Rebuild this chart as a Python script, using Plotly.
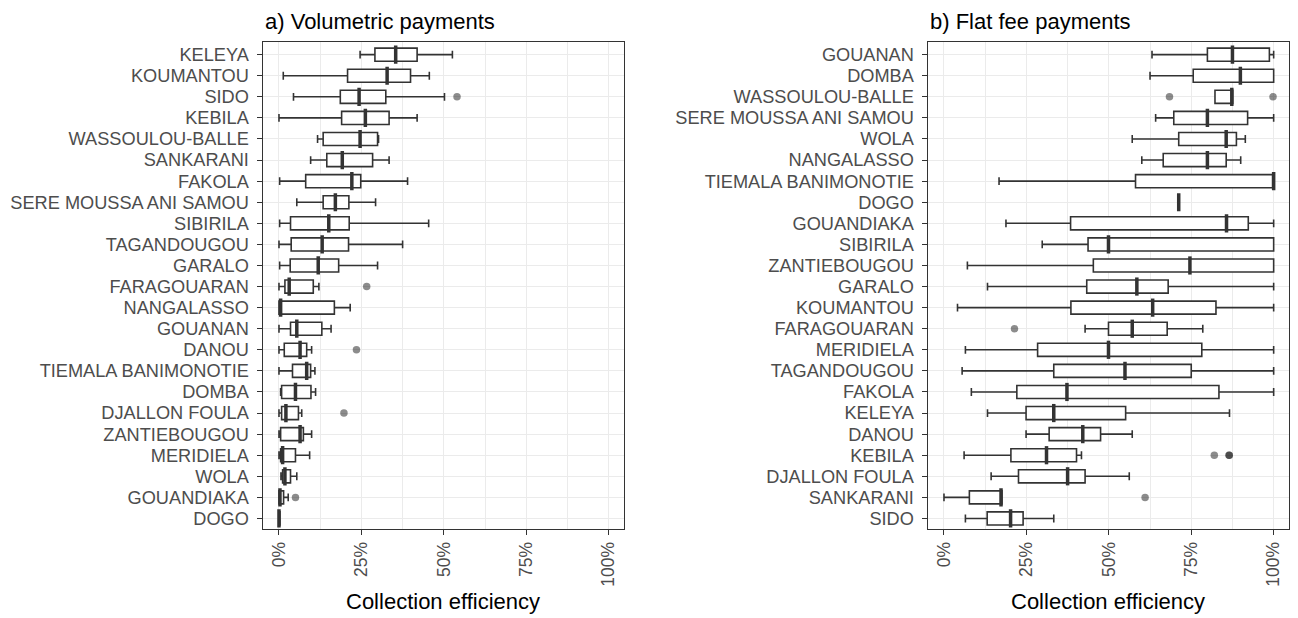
import plotly.graph_objects as go

# ---------------- data: a) Volumetric payments (top to bottom) ----------------
vol_cats = ["KELEYA", "KOUMANTOU", "SIDO", "KEBILA", "WASSOULOU-BALLE", "SANKARANI",
            "FAKOLA", "SERE MOUSSA ANI SAMOU", "SIBIRILA", "TAGANDOUGOU", "GARALO",
            "FARAGOUARAN", "NANGALASSO", "GOUANAN", "DANOU", "TIEMALA BANIMONOTIE",
            "DOMBA", "DJALLON FOULA", "ZANTIEBOUGOU", "MERIDIELA", "WOLA",
            "GOUANDIAKA", "DOGO"]
vol_low = [0.246, 0.013, 0.044, 0.000, 0.117, 0.096, 0.002, 0.054, 0.002, 0.000, 0.002,
           0.000, 0.000, 0.000, 0.000, 0.000, 0.005, 0.000, 0.000, 0.000, 0.006, 0.000, 0.000]
vol_q1 = [0.291, 0.208, 0.186, 0.190, 0.134, 0.145, 0.081, 0.134, 0.035, 0.037, 0.034,
          0.018, 0.000, 0.035, 0.016, 0.041, 0.008, 0.008, 0.005, 0.005, 0.011, 0.000, 0.000]
vol_med = [0.354, 0.328, 0.243, 0.262, 0.246, 0.192, 0.221, 0.171, 0.151, 0.131, 0.119,
           0.031, 0.005, 0.054, 0.064, 0.084, 0.050, 0.021, 0.064, 0.011, 0.018, 0.003, 0.000]
vol_q3 = [0.419, 0.399, 0.324, 0.334, 0.299, 0.284, 0.248, 0.212, 0.213, 0.211, 0.181,
          0.104, 0.168, 0.130, 0.084, 0.096, 0.097, 0.059, 0.074, 0.050, 0.035, 0.014, 0.003]
vol_high = [0.526, 0.456, 0.502, 0.419, 0.302, 0.334, 0.390, 0.293, 0.454, 0.375, 0.299,
            0.121, 0.216, 0.158, 0.099, 0.109, 0.111, 0.069, 0.099, 0.093, 0.054, 0.028, 0.003]
vol_out_cats = ["SIDO", "FARAGOUARAN", "DANOU", "DJALLON FOULA", "GOUANDIAKA"]
vol_out_vals = [0.540, 0.266, 0.235, 0.197, 0.050]

# ---------------- data: b) Flat fee payments (top to bottom) ----------------
flat_cats = ["GOUANAN", "DOMBA", "WASSOULOU-BALLE", "SERE MOUSSA ANI SAMOU", "WOLA",
             "NANGALASSO", "TIEMALA BANIMONOTIE", "DOGO", "GOUANDIAKA", "SIBIRILA",
             "ZANTIEBOUGOU", "GARALO", "KOUMANTOU", "FARAGOUARAN", "MERIDIELA",
             "TAGANDOUGOU", "FAKOLA", "KELEYA", "DANOU", "KEBILA", "DJALLON FOULA",
             "SANKARANI", "SIDO"]
flat_low = [0.631, 0.625, 0.822, 0.642, 0.571, 0.600, 0.167, 0.712, 0.188, 0.298, 0.071,
            0.132, 0.041, 0.428, 0.065, 0.055, 0.083, 0.132, 0.249, 0.061, 0.143, 0.000, 0.065]
flat_q1 = [0.799, 0.756, 0.822, 0.697, 0.712, 0.665, 0.581, 0.712, 0.384, 0.437, 0.453,
           0.433, 0.385, 0.499, 0.284, 0.333, 0.221, 0.249, 0.319, 0.203, 0.226, 0.077, 0.131]
flat_med = [0.875, 0.899, 0.873, 0.799, 0.856, 0.799, 1.000, 0.712, 0.857, 0.499, 0.746,
            0.585, 0.633, 0.571, 0.499, 0.549, 0.373, 0.333, 0.421, 0.311, 0.375, 0.173, 0.202]
flat_q3 = [0.987, 1.000, 0.876, 0.921, 0.887, 0.856, 1.000, 0.712, 0.923, 1.000, 1.000,
           0.680, 0.825, 0.677, 0.782, 0.750, 0.834, 0.551, 0.475, 0.402, 0.428, 0.176, 0.240]
flat_high = [1.000, 1.000, 0.876, 1.000, 0.914, 0.900, 1.000, 0.712, 1.000, 1.000, 1.000,
             1.000, 1.000, 0.785, 1.000, 1.000, 1.000, 0.866, 0.571, 0.417, 0.562, 0.176, 0.333]
flat_out_cats = ["WASSOULOU-BALLE", "WASSOULOU-BALLE", "FARAGOUARAN", "KEBILA", "KEBILA",
                 "KEBILA", "SANKARANI"]
flat_out_vals = [0.684, 0.998, 0.214, 0.820, 0.865, 0.865, 0.610]

tick_vals = [0, 0.25, 0.5, 0.75, 1.0]
tick_text = ["0%", "25%", "50%", "75%", "100%"]

FONT = "Liberation Sans, Arial, Helvetica, sans-serif"
DARK = "#333333"
GRID = "#EBEBEB"

fig = go.Figure()

panels = [
    (vol_cats, vol_low, vol_q1, vol_med, vol_q3, vol_high, vol_out_cats, vol_out_vals, "x", "y"),
    (flat_cats, flat_low, flat_q1, flat_med, flat_q3, flat_high, flat_out_cats, flat_out_vals, "x2", "y2"),
]

for cats, lo, q1, med, q3, hi, ocats, ovals, xa, ya in panels:
    fig.add_trace(go.Box(
        y=cats, q1=q1, median=med, q3=q3, lowerfence=lo, upperfence=hi,
        orientation="h", boxpoints=False, width=0.62, whiskerwidth=0.6,
        fillcolor="white", line=dict(color=DARK, width=1.6),
        xaxis=xa, yaxis=ya, showlegend=False, hoverinfo="skip"))
    fig.add_trace(go.Scatter(
        x=med, y=cats, mode="markers",
        marker=dict(symbol="line-ns", size=13, line=dict(width=3.5, color=DARK)),
        xaxis=xa, yaxis=ya, showlegend=False, hoverinfo="skip"))
    fig.add_trace(go.Scatter(
        x=ovals, y=ocats, mode="markers",
        marker=dict(size=7.5, color="rgba(0,0,0,0.45)", line=dict(width=0)),
        xaxis=xa, yaxis=ya, showlegend=False, hoverinfo="skip"))

# The page places the figure 8 px from the top-left corner (default body margin),
# so the figure is made 8 px smaller and every layout position is shifted by 8 px.
OFF = 8
W, H = 1298 - OFF, 618 - OFF
def px(x):
    return (x - OFF) / W

plot_top, plot_bottom = 42 - OFF, 529 - OFF
def py(y):
    # pixel row in the window (from top) -> paper coordinate
    return (plot_bottom - (y - OFF)) / (plot_bottom - plot_top)

xcommon = dict(
    range=[-0.05, 1.045], tickvals=tick_vals, ticktext=tick_text, tickangle=-90,
    showgrid=True, gridcolor=GRID, gridwidth=1.2, zeroline=False,
    minor=dict(dtick=0.125, tick0=0, showgrid=True, gridcolor=GRID, gridwidth=0.7),
    showline=True, mirror=True, linecolor=DARK, linewidth=1,
    ticks="outside", ticklen=5, tickcolor=DARK, tickwidth=1,
    tickfont=dict(family=FONT, size=17.5, color="#4D4D4D"),
    automargin=False,
)

def ycommon(cats):
    return dict(
        type="category", categoryorder="array", categoryarray=list(reversed(cats)),
        tickmode="array", tickvals=cats, ticktext=cats,
        range=[-0.5, len(cats) - 0.4],
        showgrid=True, gridcolor=GRID, gridwidth=1.2, zeroline=False,
        showline=True, mirror=True, linecolor=DARK, linewidth=1,
        ticks="outside", ticklen=5, tickcolor=DARK, tickwidth=1,
        ticklabelstandoff=4,
        tickfont=dict(family=FONT, size=18.2, color="#4D4D4D"),
        automargin=False,
    )

fig.update_layout(
    width=W, height=H,
    margin=dict(l=0, r=0, t=plot_top, b=H - plot_bottom),
    paper_bgcolor="white", plot_bgcolor="white",
    xaxis=dict(domain=[px(262.5), px(623.5)], anchor="y", **xcommon),
    xaxis2=dict(domain=[px(927.5), px(1288.5)], anchor="y2", **xcommon),
    yaxis=dict(anchor="x", **ycommon(vol_cats)),
    yaxis2=dict(anchor="x2", **ycommon(flat_cats)),
    annotations=[
        dict(text="a) Volumetric payments", x=px(262.5), y=py(21.5), xref="paper", yref="paper",
             xanchor="left", yanchor="middle", showarrow=False,
             font=dict(family=FONT, size=22, color="black")),
        dict(text="b) Flat fee payments", x=px(927.5), y=py(21.5), xref="paper", yref="paper",
             xanchor="left", yanchor="middle", showarrow=False,
             font=dict(family=FONT, size=22, color="black")),
        dict(text="Collection efficiency", x=px(443), y=py(601), xref="paper", yref="paper",
             xanchor="center", yanchor="middle", showarrow=False,
             font=dict(family=FONT, size=22, color="black")),
        dict(text="Collection efficiency", x=px(1108), y=py(601), xref="paper", yref="paper",
             xanchor="center", yanchor="middle", showarrow=False,
             font=dict(family=FONT, size=22, color="black")),
    ],
)

fig.write_html("out.html")
